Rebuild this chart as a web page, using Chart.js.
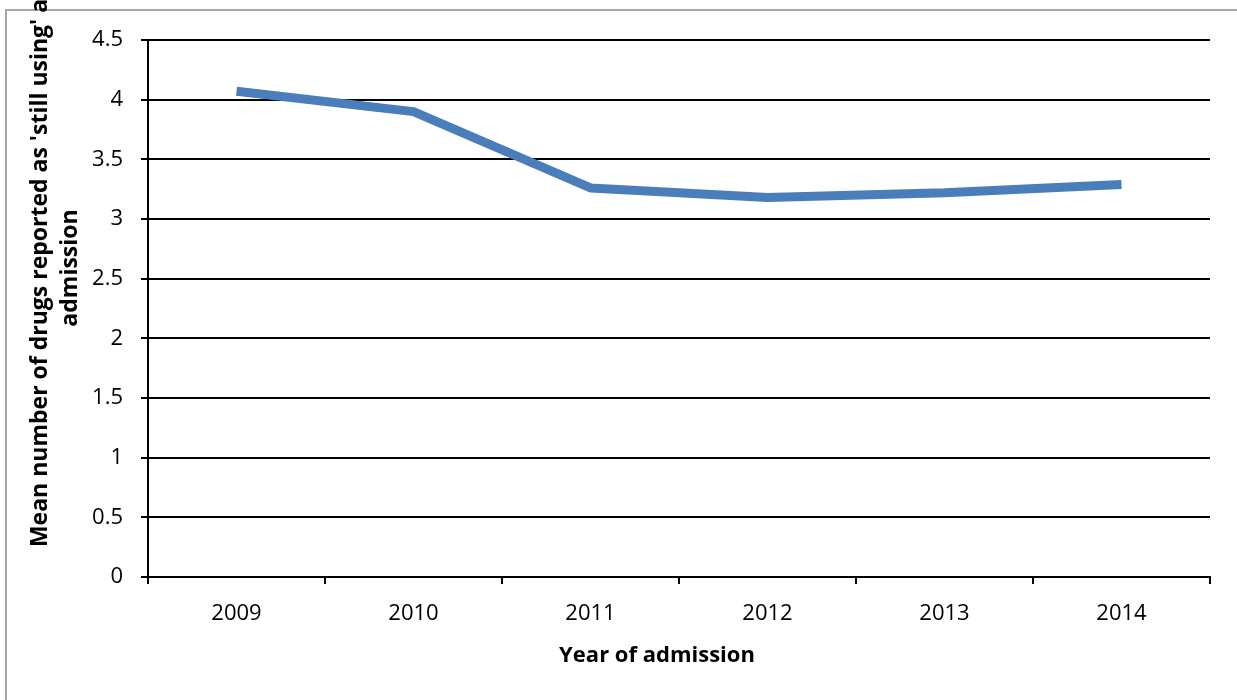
<!DOCTYPE html>
<html>
<head>
<meta charset="utf-8">
<script src="https://cdn.jsdelivr.net/npm/chart.js@4.4.1/dist/chart.umd.min.js"></script>
<style>
    html, body { margin: 0; padding: 0; background: #ffffff; }
    #wrap { position: relative; width: 1237px; height: 700px; }
</style>
</head>
<body>
<div id="wrap">
    <canvas id="drugChart" width="1237" height="700"></canvas>
</div>
<script>
const years = ["2009", "2010", "2011", "2012", "2013", "2014"];
const meanDrugs = [4.07, 3.9, 3.26, 3.18, 3.22, 3.29];
const yTitleLines = ["Mean number of drugs reported as 'still using' at", "admission"];
const xTitle = "Year of admission";

const fontFamily = "'Open Sans', 'Liberation Sans', sans-serif";

// frame + axis titles, drawn by hand so they sit where the original puts them
const decorations = {
    id: "decorations",
    beforeDraw(chart) {
        const ctx = chart.ctx;
        ctx.save();
        ctx.fillStyle = "#ffffff";
        ctx.fillRect(0, 0, chart.width, chart.height);
        ctx.strokeStyle = "#a6a6a6";
        ctx.lineWidth = 2;
        ctx.beginPath();
        ctx.moveTo(6, chart.height);
        ctx.lineTo(6, 10);
        ctx.lineTo(chart.width, 10);
        ctx.stroke();
        ctx.restore();
    },
    afterDraw(chart) {
        const ctx = chart.ctx;
        ctx.save();
        ctx.fillStyle = "#000000";
        ctx.font = "bold 23px " + fontFamily;
        ctx.textAlign = "center";
        ctx.textBaseline = "middle";

        ctx.translate(40, 268);
        ctx.rotate(-Math.PI / 2);
        ctx.fillText(yTitleLines[0], 0, 0);
        ctx.fillText(yTitleLines[1], 0, 30);
        ctx.restore();

        ctx.save();
        ctx.fillStyle = "#000000";
        ctx.font = "bold 22px " + fontFamily;
        ctx.textAlign = "center";
        ctx.textBaseline = "middle";
        ctx.fillText(xTitle, 657, 656);
        ctx.restore();
    }
};

const ctx = document.getElementById("drugChart").getContext("2d");

new Chart(ctx, {
    type: "line",
    data: {
        labels: years,
        datasets: [{
            data: meanDrugs,
            borderColor: "#4a7ebb",
            borderWidth: 9,
            borderCapStyle: "butt",
            borderJoinStyle: "bevel",
            pointRadius: 0,
            tension: 0,
            fill: false
        }]
    },
    options: {
        responsive: false,
        animation: false,
        devicePixelRatio: 1,
        layout: {
            padding: { left: 0, top: 40, right: 27, bottom: 0 }
        },
        plugins: {
            legend: { display: false },
            tooltip: { enabled: false }
        },
        scales: {
            x: {
                offset: true,
                grid: {
                    offset: true,
                    drawOnChartArea: false,
                    drawTicks: true,
                    tickLength: 7,
                    color: "#000000",
                    lineWidth: 2
                },
                border: { color: "#000000", width: 2 },
                ticks: {
                    color: "#000000",
                    padding: 17,
                    maxRotation: 0,
                    font: { family: fontFamily, size: 22 }
                },
                afterFit(scale) { scale.height = 123; }
            },
            y: {
                min: 0,
                max: 4.5,
                grid: {
                    color: "#000000",
                    lineWidth: 2,
                    drawTicks: true,
                    tickLength: 7
                },
                border: { color: "#000000", width: 2 },
                ticks: {
                    stepSize: 0.5,
                    color: "#000000",
                    padding: 18,
                    font: { family: fontFamily, size: 22 },
                    callback: value => String(value)
                },
                afterFit(scale) { scale.width = 148; }
            }
        }
    },
    plugins: [decorations]
});
</script>
</body>
</html>
